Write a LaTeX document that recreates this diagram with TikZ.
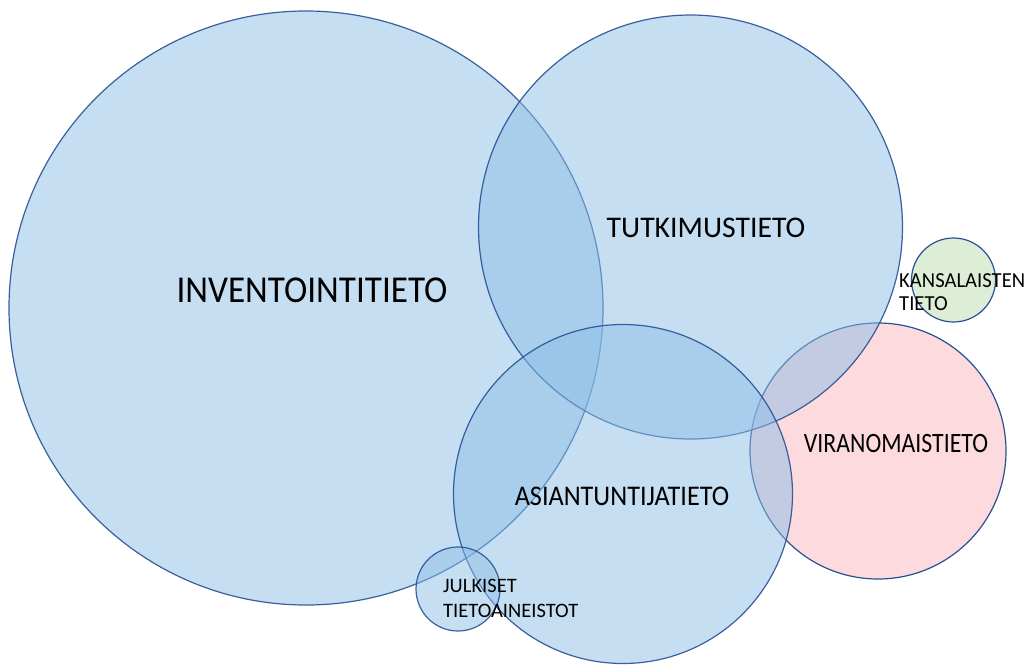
\documentclass[tikz,border=0pt]{standalone}
\usepackage{graphicx}
\usepackage{fontspec}
\setmainfont{Carlito}
\begin{document}
\begin{tikzpicture}[x=1pt,y=-1pt,
  bluec/.style={circle,inner sep=0pt,draw=edgeblue,line width=1.2pt,fill=fillblue,fill opacity=0.5,draw opacity=0.9},
  pinkc/.style={circle,inner sep=0pt,draw=edgeblue,line width=1.2pt,fill=fillpink},
  greenc/.style={circle,inner sep=0pt,draw=edgeblue,line width=1.2pt,fill=fillgreen},
  lbl/.style={inner sep=0pt,text=black}]
\definecolor{edgeblue}{RGB}{40,80,148}
\definecolor{fillblue}{RGB}{140,190,230}
\definecolor{fillpink}{RGB}{252,218,222}
\definecolor{fillgreen}{RGB}{222,238,214}
\useasboundingbox (0,0) rectangle (1027,664);
\node[pinkc, minimum size=256pt] (vir) at (878,451) {};
\node[greenc, minimum size=84pt] (kan) at (953.5,280) {};
\node[bluec, minimum size=594pt] (inv) at (306,308) {};
\node[bluec, minimum size=424pt] (tut) at (690.5,227) {};
\node[bluec, minimum size=339pt] (asi) at (623,494) {};
\node[bluec, minimum size=84pt] (jul) at (458,589) {};
\node[lbl, font=\fontsize{38}{40}\selectfont] (tinv) at (312,290) {\scalebox{0.925}[1]{INVENTOINTITIETO}};
\node[lbl, font=\fontsize{30}{32}\selectfont] (ttut) at (706,228) {\scalebox{0.99}[1]{TUTKIMUSTIETO}};
\node[lbl, font=\fontsize{28.5}{30}\selectfont] (tasi) at (622,496) {\scalebox{0.92}[1]{ASIANTUNTIJATIETO}};
\node[lbl, font=\fontsize{28}{30}\selectfont] (tvir) at (896,444) {\scalebox{0.85}[1]{VIRANOMAISTIETO}};
\node[lbl, font=\fontsize{21.4}{23}\selectfont, align=left, anchor=base west] (tkan) at (899,310) {\scalebox{0.965}[1]{KANSALAISTEN}\\\scalebox{0.965}[1]{TIETO}};
\node[lbl, font=\fontsize{20.5}{25}\selectfont, align=left, anchor=base west] (tjul) at (443,617) {JULKISET\\TIETOAINEISTOT};
\end{tikzpicture}
\end{document}
